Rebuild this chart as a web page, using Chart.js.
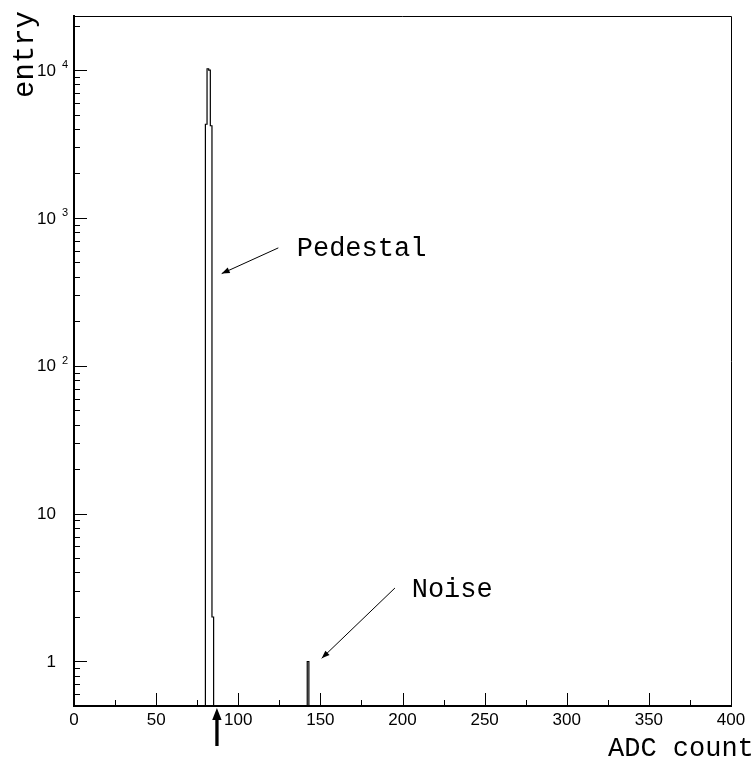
<!DOCTYPE html>
<html>
<head>
<meta charset="utf-8">
<script src="https://cdn.jsdelivr.net/npm/chart.js@4/dist/chart.umd.min.js"></script>
<style>
html,body{margin:0;padding:0;background:#fff;}
#wrap{width:756px;height:762px;position:relative;}
</style>
</head>
<body>
<div id="wrap"><canvas id="c" width="756" height="762"></canvas></div>
<script>
// ---- data (histogram of ADC counts) ----
const binLow    = [80, 81, 82, 83, 84, 142];
const binCounts = [4300, 10200, 10000, 4200, 2, 1];
const binWidth  = 1;

// axis ranges / tick labels
const X_MIN = 0, X_MAX = 400, X_STEP = 50, X_MINOR = 25;
const Y_MIN = 0.5, Y_MAX = 23200;
const yDecades   = [1, 10, 100, 1000, 10000];
const yLabelBase = ['1', '10', '10', '10', '10'];
const yLabelExp  = ['', '', '2', '3', '4'];

// annotations (data coordinates)
const noteTexts  = ['Pedestal', 'Noise'];
const noteTextX  = [135.6, 205.6];
const noteTextY  = [550, 2.74];
const noteFromX  = [124.4, 195.4];
const noteFromY  = [627, 3.14];
const noteToX    = [89.9, 150.8];
const noteToY    = [420, 1.05];
const cutValue   = 87;

const xTitle = 'ADC count';
const yTitle = 'entry';

// ---- build step outline from bins ----
const pts = [];
let prevEnd = null;
binLow.forEach((lo, i) => {
  const hi = lo + binWidth;
  if (prevEnd !== lo) {
    if (prevEnd !== null) pts.push({x: prevEnd, y: Y_MIN});
    pts.push({x: lo, y: Y_MIN});
  }
  pts.push({x: lo, y: binCounts[i]});
  pts.push({x: hi, y: binCounts[i]});
  prevEnd = hi;
});
pts.push({x: prevEnd, y: Y_MIN});

function arrowHead(ctx, x1, y1, x2, y2, len, halfW) {
  const a = Math.atan2(y2 - y1, x2 - x1);
  ctx.beginPath();
  ctx.moveTo(x2, y2);
  ctx.lineTo(x2 - len * Math.cos(a) + halfW * Math.sin(a), y2 - len * Math.sin(a) - halfW * Math.cos(a));
  ctx.lineTo(x2 - len * Math.cos(a) - halfW * Math.sin(a), y2 - len * Math.sin(a) + halfW * Math.cos(a));
  ctx.closePath();
  ctx.fill();
}

const decor = {
  id: 'decor',
  afterDraw(chart) {
    const ctx = chart.ctx;
    const ca = chart.chartArea;
    const xs = chart.scales.x, ys = chart.scales.y;
    ctx.save();
    ctx.fillStyle = '#000';
    ctx.strokeStyle = '#000';
    // frame top & right
    ctx.lineWidth = 1;
    ctx.beginPath();
    ctx.moveTo(ca.left, ca.top + 0.5);
    ctx.lineTo(ca.right + 0.5, ca.top + 0.5);
    ctx.lineTo(ca.right + 0.5, ca.bottom);
    ctx.stroke();
    // x ticks (inward)
    ctx.lineWidth = 1;
    for (let v = X_MIN; v <= X_MAX; v += X_MINOR) {
      const px = Math.round(xs.getPixelForValue(v)) + 0.5;
      const len = (v % X_STEP === 0) ? 13 : 6;
      ctx.beginPath();
      ctx.moveTo(px, ca.bottom);
      ctx.lineTo(px, ca.bottom - len);
      ctx.stroke();
    }
    // y ticks (inward), log minor ticks
    for (let e = -1; e <= 5; e++) {
      for (let m = 1; m <= 9; m++) {
        const v = m * Math.pow(10, e);
        if (v < Y_MIN - 1e-9 || v > Y_MAX) continue;
        const py = Math.round(ys.getPixelForValue(v)) + 0.5;
        const len = (m === 1) ? 13 : 6;
        ctx.beginPath();
        ctx.moveTo(ca.left, py);
        ctx.lineTo(ca.left + len, py);
        ctx.stroke();
      }
    }
    // y labels
    yDecades.forEach((v, i) => {
      const py = ys.getPixelForValue(v);
      ctx.font = '17px "Liberation Sans", Arial, sans-serif';
      ctx.textAlign = 'right';
      ctx.textBaseline = 'middle';
      ctx.fillText(yLabelBase[i], ca.left - 18, py + 1);
      if (yLabelExp[i]) {
        ctx.font = '11px "Liberation Sans", Arial, sans-serif';
        ctx.textAlign = 'left';
        ctx.textBaseline = 'alphabetic';
        ctx.fillText(yLabelExp[i], ca.left - 12, py - 2);
      }
    });
    // annotations
    ctx.font = '27px "Liberation Mono", "Courier New", monospace';
    ctx.textAlign = 'left';
    ctx.textBaseline = 'alphabetic';
    noteTexts.forEach((t, i) => {
      ctx.fillText(t, xs.getPixelForValue(noteTextX[i]), ys.getPixelForValue(noteTextY[i]));
      const x1 = xs.getPixelForValue(noteFromX[i]), y1 = ys.getPixelForValue(noteFromY[i]);
      const x2 = xs.getPixelForValue(noteToX[i]),   y2 = ys.getPixelForValue(noteToY[i]);
      ctx.lineWidth = 1;
      ctx.beginPath();
      ctx.moveTo(x1, y1);
      ctx.lineTo(x2, y2);
      ctx.stroke();
      arrowHead(ctx, x1, y1, x2, y2, 8, 3);
    });
    // cut arrow below axis
    const cx = xs.getPixelForValue(cutValue);
    ctx.beginPath();
    ctx.moveTo(cx, ca.bottom + 2);
    ctx.lineTo(cx + 4.7, ca.bottom + 14);
    ctx.lineTo(cx - 4.7, ca.bottom + 14);
    ctx.closePath();
    ctx.fill();
    ctx.fillRect(cx - 1.6, ca.bottom + 13, 3.3, 27);
    // axis titles
    ctx.font = '27px "Liberation Mono", "Courier New", monospace';
    ctx.textAlign = 'left';
    ctx.textBaseline = 'alphabetic';
    ctx.fillText(xTitle, ca.right - 123, chart.height - 6);
    ctx.save();
    ctx.translate(33, ca.top + 82);
    ctx.rotate(-Math.PI / 2);
    ctx.font = '29px "Liberation Mono", "Courier New", monospace';
    ctx.fillText(yTitle, 0, 0);
    ctx.restore();
    ctx.restore();
  }
};

new Chart(document.getElementById('c'), {
  type: 'line',
  data: {
    datasets: [{
      data: pts,
      borderColor: '#000',
      borderWidth: 1.2,
      pointRadius: 0,
      fill: false,
      tension: 0
    }]
  },
  options: {
    responsive: false,
    animation: false,
    devicePixelRatio: 1,
    layout: {padding: {top: 16, right: 25, left: 0, bottom: 0}},
    plugins: {legend: {display: false}, tooltip: {enabled: false}, title: {display: false}},
    scales: {
      x: {
        type: 'linear',
        min: X_MIN, max: X_MAX,
        ticks: {stepSize: X_STEP, color: '#000', padding: 4, maxRotation: 0, autoSkip: false,
                font: {family: '"Liberation Sans", Arial, sans-serif', size: 17}},
        grid: {display: false, drawTicks: false},
        border: {display: true, color: '#000', width: 2},
        afterFit(s) { s.height = 56; }
      },
      y: {
        type: 'logarithmic',
        min: Y_MIN, max: Y_MAX,
        ticks: {display: false},
        grid: {display: false, drawTicks: false},
        border: {display: true, color: '#000', width: 2},
        afterFit(s) { s.width = 74; }
      }
    }
  },
  plugins: [decor]
});
</script>
</body>
</html>
